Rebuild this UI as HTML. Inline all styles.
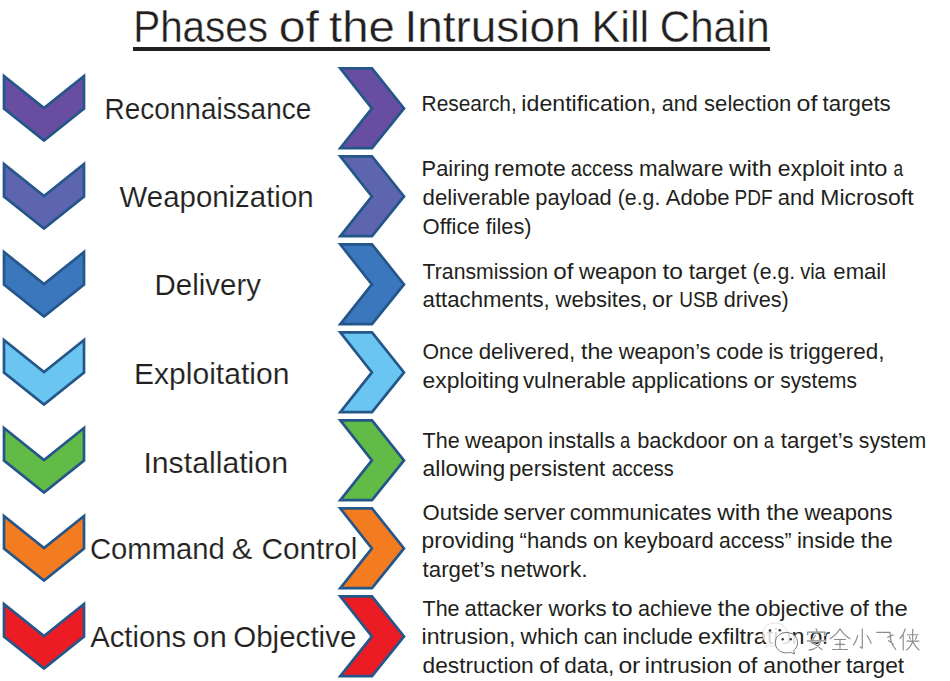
<!DOCTYPE html>
<html><head><meta charset="utf-8"><style>
html,body{margin:0;padding:0;background:#fff;width:950px;height:681px;overflow:hidden}
svg{display:block}
text{font-family:"Liberation Sans",sans-serif;fill:#231f20}
.tt{stroke:#fff;stroke-width:0.35px}
.ll{stroke:#fff;stroke-width:0.15px}
</style></head><body>
<svg width="950" height="681" viewBox="0 0 950 681">
<rect x="133" y="47" width="637" height="4" fill="#231f20"/>
<g stroke="#24568a" stroke-width="2.7" stroke-linejoin="miter" stroke-miterlimit="10">
<path d="M4,76 L44,108.1 L84,76 L84,108.6 L44,140.5 L4,108.6 Z" fill="#674ea0"/>
<path d="M340.3,68.4 L372.0,68.4 L404.0,108.4 L372.0,148.2 L340.3,148.2 L371.9,108.4 Z" fill="#674ea0"/>
<path d="M4,164 L44,196.1 L84,164 L84,196.6 L44,228.5 L4,196.6 Z" fill="#5c65ae"/>
<path d="M340.3,156.4 L372.0,156.4 L404.0,196.4 L372.0,236.2 L340.3,236.2 L371.9,196.4 Z" fill="#5c65ae"/>
<path d="M4,252 L44,284.1 L84,252 L84,284.6 L44,316.5 L4,284.6 Z" fill="#3b77bd"/>
<path d="M340.3,244.4 L372.0,244.4 L404.0,284.4 L372.0,324.2 L340.3,324.2 L371.9,284.4 Z" fill="#3b77bd"/>
<path d="M4,340 L44,372.1 L84,340 L84,372.6 L44,404.5 L4,372.6 Z" fill="#6bc5f1"/>
<path d="M340.3,332.4 L372.0,332.4 L404.0,372.4 L372.0,412.2 L340.3,412.2 L371.9,372.4 Z" fill="#6bc5f1"/>
<path d="M4,428 L44,460.1 L84,428 L84,460.6 L44,492.5 L4,460.6 Z" fill="#62bb47"/>
<path d="M340.3,420.4 L372.0,420.4 L404.0,460.4 L372.0,500.2 L340.3,500.2 L371.9,460.4 Z" fill="#62bb47"/>
<path d="M4,516 L44,548.1 L84,516 L84,548.6 L44,580.5 L4,548.6 Z" fill="#f37c21"/>
<path d="M340.3,508.4 L372.0,508.4 L404.0,548.4 L372.0,588.2 L340.3,588.2 L371.9,548.4 Z" fill="#f37c21"/>
<path d="M4,604 L44,636.1 L84,604 L84,636.6 L44,668.5 L4,636.6 Z" fill="#ec1c24"/>
<path d="M340.3,596.4 L372.0,596.4 L404.0,636.4 L372.0,676.2 L340.3,676.2 L371.9,636.4 Z" fill="#ec1c24"/>
</g>
<g id="txt">
<text class="tt" x="133.20" y="42.10" font-size="44.2" textLength="134.80" lengthAdjust="spacingAndGlyphs">Phases</text>
<text class="tt" x="278.80" y="42.10" font-size="44.2" textLength="40.20" lengthAdjust="spacingAndGlyphs">of</text>
<text class="tt" x="329.00" y="42.10" font-size="44.2" textLength="65.80" lengthAdjust="spacingAndGlyphs">the</text>
<text class="tt" x="404.40" y="42.10" font-size="44.2" textLength="176.20" lengthAdjust="spacingAndGlyphs">Intrusion</text>
<text class="tt" x="591.40" y="42.10" font-size="44.2" textLength="57.80" lengthAdjust="spacingAndGlyphs">Kill</text>
<text class="tt" x="659.80" y="42.10" font-size="44.2" textLength="109.80" lengthAdjust="spacingAndGlyphs">Chain</text>
<text class="ll" x="104.60" y="119.10" font-size="29.5" textLength="206.60" lengthAdjust="spacingAndGlyphs">Reconnaissance</text>
<text class="ll" x="119.60" y="206.80" font-size="29.5" textLength="194.00" lengthAdjust="spacingAndGlyphs">Weaponization</text>
<text class="ll" x="154.60" y="294.60" font-size="29.5" textLength="106.40" lengthAdjust="spacingAndGlyphs">Delivery</text>
<text class="ll" x="134.00" y="383.70" font-size="29.5" textLength="155.40" lengthAdjust="spacingAndGlyphs">Exploitation</text>
<text class="ll" x="143.40" y="472.70" font-size="29.5" textLength="144.60" lengthAdjust="spacingAndGlyphs">Installation</text>
<text class="ll" x="90.00" y="558.60" font-size="29.5" textLength="134.80" lengthAdjust="spacingAndGlyphs">Command</text>
<text class="ll" x="231.80" y="558.60" font-size="29.5" textLength="20.60" lengthAdjust="spacingAndGlyphs">&amp;</text>
<text class="ll" x="261.40" y="558.60" font-size="29.5" textLength="96.00" lengthAdjust="spacingAndGlyphs">Control</text>
<text class="ll" x="90.20" y="646.90" font-size="29.5" textLength="96.00" lengthAdjust="spacingAndGlyphs">Actions</text>
<text class="ll" x="192.60" y="646.90" font-size="29.5" textLength="34.20" lengthAdjust="spacingAndGlyphs">on</text>
<text class="ll" x="233.20" y="646.90" font-size="29.5" textLength="123.20" lengthAdjust="spacingAndGlyphs">Objective</text>
<text x="421.60" y="110.60" font-size="21.7" textLength="95.19" lengthAdjust="spacingAndGlyphs">Research,</text>
<text x="521.39" y="110.60" font-size="21.7" textLength="135.18" lengthAdjust="spacingAndGlyphs">identification,</text>
<text x="661.67" y="110.60" font-size="21.7" textLength="36.02" lengthAdjust="spacingAndGlyphs">and</text>
<text x="704.03" y="110.60" font-size="21.7" textLength="87.31" lengthAdjust="spacingAndGlyphs">selection</text>
<text x="796.59" y="110.60" font-size="21.7" textLength="20.89" lengthAdjust="spacingAndGlyphs">of</text>
<text x="822.55" y="110.60" font-size="21.7" textLength="68.25" lengthAdjust="spacingAndGlyphs">targets</text>
<text x="421.60" y="175.80" font-size="21.7" textLength="67.92" lengthAdjust="spacingAndGlyphs">Pairing</text>
<text x="494.13" y="175.80" font-size="21.7" textLength="71.67" lengthAdjust="spacingAndGlyphs">remote</text>
<text x="570.87" y="175.80" font-size="21.7" textLength="62.55" lengthAdjust="spacingAndGlyphs">access</text>
<text x="638.92" y="175.80" font-size="21.7" textLength="84.41" lengthAdjust="spacingAndGlyphs">malware</text>
<text x="729.06" y="175.80" font-size="21.7" textLength="42.91" lengthAdjust="spacingAndGlyphs">with</text>
<text x="777.78" y="175.80" font-size="21.7" textLength="66.59" lengthAdjust="spacingAndGlyphs">exploit</text>
<text x="849.42" y="175.80" font-size="21.7" textLength="38.10" lengthAdjust="spacingAndGlyphs">into</text>
<text x="893.60" y="175.80" font-size="21.7" textLength="9.60" lengthAdjust="spacingAndGlyphs">a</text>
<text x="422.60" y="205.40" font-size="21.7" textLength="107.57" lengthAdjust="spacingAndGlyphs">deliverable</text>
<text x="535.32" y="205.40" font-size="21.7" textLength="76.35" lengthAdjust="spacingAndGlyphs">payload</text>
<text x="617.81" y="205.40" font-size="21.7" textLength="42.51" lengthAdjust="spacingAndGlyphs">(e.g.</text>
<text x="665.72" y="205.40" font-size="21.7" textLength="63.88" lengthAdjust="spacingAndGlyphs">Adobe</text>
<text x="734.51" y="205.40" font-size="21.7" textLength="38.10" lengthAdjust="spacingAndGlyphs">PDF</text>
<text x="777.86" y="205.40" font-size="21.7" textLength="36.59" lengthAdjust="spacingAndGlyphs">and</text>
<text x="820.37" y="205.40" font-size="21.7" textLength="93.23" lengthAdjust="spacingAndGlyphs">Microsoft</text>
<text x="422.60" y="233.70" font-size="21.7" textLength="57.10" lengthAdjust="spacingAndGlyphs">Office</text>
<text x="485.63" y="233.70" font-size="21.7" textLength="45.97" lengthAdjust="spacingAndGlyphs">files)</text>
<text x="422.60" y="278.60" font-size="21.7" textLength="125.46" lengthAdjust="spacingAndGlyphs">Transmission</text>
<text x="553.39" y="278.60" font-size="21.7" textLength="20.17" lengthAdjust="spacingAndGlyphs">of</text>
<text x="578.97" y="278.60" font-size="21.7" textLength="77.91" lengthAdjust="spacingAndGlyphs">weapon</text>
<text x="662.50" y="278.60" font-size="21.7" textLength="20.49" lengthAdjust="spacingAndGlyphs">to</text>
<text x="688.67" y="278.60" font-size="21.7" textLength="57.80" lengthAdjust="spacingAndGlyphs">target</text>
<text x="752.61" y="278.60" font-size="21.7" textLength="42.50" lengthAdjust="spacingAndGlyphs">(e.g.</text>
<text x="800.14" y="278.60" font-size="21.7" textLength="25.65" lengthAdjust="spacingAndGlyphs">via</text>
<text x="833.33" y="278.60" font-size="21.7" textLength="52.87" lengthAdjust="spacingAndGlyphs">email</text>
<text x="422.60" y="307.00" font-size="21.7" textLength="127.10" lengthAdjust="spacingAndGlyphs">attachments,</text>
<text x="555.48" y="307.00" font-size="21.7" textLength="91.89" lengthAdjust="spacingAndGlyphs">websites,</text>
<text x="652.02" y="307.00" font-size="21.7" textLength="20.77" lengthAdjust="spacingAndGlyphs">or</text>
<text x="679.23" y="307.00" font-size="21.7" textLength="39.06" lengthAdjust="spacingAndGlyphs">USB</text>
<text x="723.78" y="307.00" font-size="21.7" textLength="65.02" lengthAdjust="spacingAndGlyphs">drives)</text>
<text x="422.60" y="359.00" font-size="21.7" textLength="50.78" lengthAdjust="spacingAndGlyphs">Once</text>
<text x="478.67" y="359.00" font-size="21.7" textLength="96.58" lengthAdjust="spacingAndGlyphs">delivered,</text>
<text x="580.98" y="359.00" font-size="21.7" textLength="32.16" lengthAdjust="spacingAndGlyphs">the</text>
<text x="618.74" y="359.00" font-size="21.7" textLength="91.80" lengthAdjust="spacingAndGlyphs">weapon’s</text>
<text x="716.09" y="359.00" font-size="21.7" textLength="47.39" lengthAdjust="spacingAndGlyphs">code</text>
<text x="768.46" y="359.00" font-size="21.7" textLength="15.16" lengthAdjust="spacingAndGlyphs">is</text>
<text x="789.41" y="359.00" font-size="21.7" textLength="95.19" lengthAdjust="spacingAndGlyphs">triggered,</text>
<text x="422.60" y="387.60" font-size="21.7" textLength="96.59" lengthAdjust="spacingAndGlyphs">exploiting</text>
<text x="522.95" y="387.60" font-size="21.7" textLength="103.08" lengthAdjust="spacingAndGlyphs">vulnerable</text>
<text x="631.60" y="387.60" font-size="21.7" textLength="116.41" lengthAdjust="spacingAndGlyphs">applications</text>
<text x="753.40" y="387.60" font-size="21.7" textLength="20.91" lengthAdjust="spacingAndGlyphs">or</text>
<text x="780.18" y="387.60" font-size="21.7" textLength="76.82" lengthAdjust="spacingAndGlyphs">systems</text>
<text x="422.60" y="447.50" font-size="21.7" textLength="37.08" lengthAdjust="spacingAndGlyphs">The</text>
<text x="465.12" y="447.50" font-size="21.7" textLength="77.98" lengthAdjust="spacingAndGlyphs">weapon</text>
<text x="548.28" y="447.50" font-size="21.7" textLength="66.87" lengthAdjust="spacingAndGlyphs">installs</text>
<text x="619.97" y="447.50" font-size="21.7" textLength="10.19" lengthAdjust="spacingAndGlyphs">a</text>
<text x="637.13" y="447.50" font-size="21.7" textLength="89.88" lengthAdjust="spacingAndGlyphs">backdoor</text>
<text x="732.67" y="447.50" font-size="21.7" textLength="26.14" lengthAdjust="spacingAndGlyphs">on</text>
<text x="763.73" y="447.50" font-size="21.7" textLength="10.19" lengthAdjust="spacingAndGlyphs">a</text>
<text x="780.89" y="447.50" font-size="21.7" textLength="72.42" lengthAdjust="spacingAndGlyphs">target’s</text>
<text x="858.84" y="447.50" font-size="21.7" textLength="67.36" lengthAdjust="spacingAndGlyphs">system</text>
<text x="422.60" y="475.70" font-size="21.7" textLength="82.70" lengthAdjust="spacingAndGlyphs">allowing</text>
<text x="509.00" y="475.70" font-size="21.7" textLength="96.21" lengthAdjust="spacingAndGlyphs">persistent</text>
<text x="611.69" y="475.70" font-size="21.7" textLength="62.11" lengthAdjust="spacingAndGlyphs">access</text>
<text x="422.60" y="519.60" font-size="21.7" textLength="76.34" lengthAdjust="spacingAndGlyphs">Outside</text>
<text x="503.61" y="519.60" font-size="21.7" textLength="61.40" lengthAdjust="spacingAndGlyphs">server</text>
<text x="569.66" y="519.60" font-size="21.7" textLength="141.92" lengthAdjust="spacingAndGlyphs">communicates</text>
<text x="717.28" y="519.60" font-size="21.7" textLength="43.24" lengthAdjust="spacingAndGlyphs">with</text>
<text x="766.48" y="519.60" font-size="21.7" textLength="32.51" lengthAdjust="spacingAndGlyphs">the</text>
<text x="804.41" y="519.60" font-size="21.7" textLength="87.99" lengthAdjust="spacingAndGlyphs">weapons</text>
<text x="421.60" y="548.30" font-size="21.7" textLength="92.85" lengthAdjust="spacingAndGlyphs">providing</text>
<text x="519.58" y="548.30" font-size="21.7" textLength="67.75" lengthAdjust="spacingAndGlyphs">“hands</text>
<text x="592.99" y="548.30" font-size="21.7" textLength="25.13" lengthAdjust="spacingAndGlyphs">on</text>
<text x="623.62" y="548.30" font-size="21.7" textLength="90.08" lengthAdjust="spacingAndGlyphs">keyboard</text>
<text x="719.09" y="548.30" font-size="21.7" textLength="72.53" lengthAdjust="spacingAndGlyphs">access”</text>
<text x="796.91" y="548.30" font-size="21.7" textLength="58.29" lengthAdjust="spacingAndGlyphs">inside</text>
<text x="860.84" y="548.30" font-size="21.7" textLength="31.96" lengthAdjust="spacingAndGlyphs">the</text>
<text x="422.60" y="576.80" font-size="21.7" textLength="72.50" lengthAdjust="spacingAndGlyphs">target’s</text>
<text x="500.35" y="576.80" font-size="21.7" textLength="87.45" lengthAdjust="spacingAndGlyphs">network.</text>
<text x="422.60" y="616.00" font-size="21.7" textLength="36.96" lengthAdjust="spacingAndGlyphs">The</text>
<text x="464.49" y="616.00" font-size="21.7" textLength="78.06" lengthAdjust="spacingAndGlyphs">attacker</text>
<text x="548.52" y="616.00" font-size="21.7" textLength="58.14" lengthAdjust="spacingAndGlyphs">works</text>
<text x="611.47" y="616.00" font-size="21.7" textLength="21.30" lengthAdjust="spacingAndGlyphs">to</text>
<text x="637.92" y="616.00" font-size="21.7" textLength="74.28" lengthAdjust="spacingAndGlyphs">achieve</text>
<text x="717.71" y="616.00" font-size="21.7" textLength="32.39" lengthAdjust="spacingAndGlyphs">the</text>
<text x="755.33" y="616.00" font-size="21.7" textLength="89.10" lengthAdjust="spacingAndGlyphs">objective</text>
<text x="849.88" y="616.00" font-size="21.7" textLength="18.97" lengthAdjust="spacingAndGlyphs">of</text>
<text x="874.63" y="616.00" font-size="21.7" textLength="33.17" lengthAdjust="spacingAndGlyphs">the</text>
<text x="421.60" y="644.40" font-size="21.7" textLength="93.74" lengthAdjust="spacingAndGlyphs">intrusion,</text>
<text x="520.54" y="644.40" font-size="21.7" textLength="57.88" lengthAdjust="spacingAndGlyphs">which</text>
<text x="583.66" y="644.40" font-size="21.7" textLength="33.79" lengthAdjust="spacingAndGlyphs">can</text>
<text x="622.61" y="644.40" font-size="21.7" textLength="70.37" lengthAdjust="spacingAndGlyphs">include</text>
<text x="698.03" y="644.40" font-size="21.7" textLength="106.55" lengthAdjust="spacingAndGlyphs">exfiltration</text>
<text x="809.80" y="644.40" font-size="21.7" textLength="20.20" lengthAdjust="spacingAndGlyphs">or</text>
<text x="422.60" y="673.30" font-size="21.7" textLength="111.17" lengthAdjust="spacingAndGlyphs">destruction</text>
<text x="539.29" y="673.30" font-size="21.7" textLength="19.65" lengthAdjust="spacingAndGlyphs">of</text>
<text x="564.17" y="673.30" font-size="21.7" textLength="50.12" lengthAdjust="spacingAndGlyphs">data,</text>
<text x="618.40" y="673.30" font-size="21.7" textLength="21.97" lengthAdjust="spacingAndGlyphs">or</text>
<text x="644.81" y="673.30" font-size="21.7" textLength="87.42" lengthAdjust="spacingAndGlyphs">intrusion</text>
<text x="737.75" y="673.30" font-size="21.7" textLength="19.65" lengthAdjust="spacingAndGlyphs">of</text>
<text x="763.27" y="673.30" font-size="21.7" textLength="77.69" lengthAdjust="spacingAndGlyphs">another</text>
<text x="845.96" y="673.30" font-size="21.7" textLength="58.24" lengthAdjust="spacingAndGlyphs">target</text>
</g>
<g id="wm">
<path d="M762.5,635 C762.5,627.5 768.5,623 775,623 C781.5,623 787.5,627.5 787.5,635 C787.5,641 782,646 775,646 C772.5,646 770.5,645.6 768.5,645 L765.5,647.5 L766.5,643.5 C764,641.5 762.5,638.5 762.5,635 Z" fill="rgba(255,255,255,0.82)" stroke="rgba(160,160,160,0.35)" stroke-width="0.9"/>
<circle cx="770" cy="630.5" r="1.3" fill="#3a3a3a"/>
<circle cx="779.8" cy="630.3" r="1.3" fill="#3a3a3a"/>
<path d="M775.3,642.7 C775.3,636.5 780.5,632.5 786.5,632.5 C792.5,632.5 797.6,636.5 797.6,642.7 C797.6,646 796,648.8 793.6,650.6 L794.6,654 L790.6,652.3 C789.3,652.7 788,652.9 786.5,652.9 C780.5,652.9 775.3,648.9 775.3,642.7 Z" fill="rgba(255,255,255,0.85)" stroke="#6a6a6a" stroke-width="0.9"/>
<circle cx="782.7" cy="639.3" r="1.2" fill="#333"/>
<circle cx="790.8" cy="639.3" r="1.2" fill="#333"/>
<g fill="none" stroke-linecap="round" stroke-linejoin="round" transform="translate(806.5,628.5)">
<g stroke="#fff" stroke-width="2.2" opacity="0.85"><path d="M9.5,0.3 L10.5,2.6 M1.2,6.5 L1.2,3.6 L18.3,3.6 L18.3,6.5 M0.8,12.3 L19.2,12.3 M8.8,6.8 C7.5,9.5 6,12 4.6,14 C8.5,15.5 12.5,18 15.5,21.2 M14.2,12.3 C13,17.5 9.5,20.5 2.5,21.6"/>
<path transform="translate(23,0)" d="M10.5,0.3 C8,4.5 4.5,8 0.5,10.3 M10.5,0.3 C13,4.5 16.5,8 20.5,10.3 M5,11 L16,11 M6,15.8 L15,15.8 M3,21 L18,21 M10.5,11 L10.5,21"/>
<path transform="translate(46,0)" d="M9.8,0.5 L9.8,19.8 L7.6,18.3 M5.2,7.2 C4.4,10.5 3,13.8 1,16.6 M14.6,7 C16.2,9.5 17.6,12 18.6,14.8"/>
<path transform="translate(69,0)" d="M1.2,3.8 L14.6,3.8 C14.4,10.5 16,16.5 20.2,20.8 M12.2,8.8 L17.6,6.4 M12.8,12 L17.8,15.6"/>
<path transform="translate(93,0)" d="M5.8,0.5 C4.6,4.4 2.8,7.6 0.5,10 M3.7,6.2 L3.7,21.5 M8,6.2 L18.6,6.2 M7.2,12.6 L19.4,12.6 M13.2,0.8 L13.2,12.6 C12,16.8 10,19.4 7,21.5 M13.4,13.6 C15,17 17,19.5 19.6,21.5 M9.8,8 L10.8,10.6 M17.2,7.8 L16,10.6"/></g>
<g stroke="#8a8a8a" stroke-width="1.15"><path d="M9.5,0.3 L10.5,2.6 M1.2,6.5 L1.2,3.6 L18.3,3.6 L18.3,6.5 M0.8,12.3 L19.2,12.3 M8.8,6.8 C7.5,9.5 6,12 4.6,14 C8.5,15.5 12.5,18 15.5,21.2 M14.2,12.3 C13,17.5 9.5,20.5 2.5,21.6"/>
<path transform="translate(23,0)" d="M10.5,0.3 C8,4.5 4.5,8 0.5,10.3 M10.5,0.3 C13,4.5 16.5,8 20.5,10.3 M5,11 L16,11 M6,15.8 L15,15.8 M3,21 L18,21 M10.5,11 L10.5,21"/>
<path transform="translate(46,0)" d="M9.8,0.5 L9.8,19.8 L7.6,18.3 M5.2,7.2 C4.4,10.5 3,13.8 1,16.6 M14.6,7 C16.2,9.5 17.6,12 18.6,14.8"/>
<path transform="translate(69,0)" d="M1.2,3.8 L14.6,3.8 C14.4,10.5 16,16.5 20.2,20.8 M12.2,8.8 L17.6,6.4 M12.8,12 L17.8,15.6"/>
<path transform="translate(93,0)" d="M5.8,0.5 C4.6,4.4 2.8,7.6 0.5,10 M3.7,6.2 L3.7,21.5 M8,6.2 L18.6,6.2 M7.2,12.6 L19.4,12.6 M13.2,0.8 L13.2,12.6 C12,16.8 10,19.4 7,21.5 M13.4,13.6 C15,17 17,19.5 19.6,21.5 M9.8,8 L10.8,10.6 M17.2,7.8 L16,10.6"/></g>
</g>
</g>
</svg>
</body></html>
